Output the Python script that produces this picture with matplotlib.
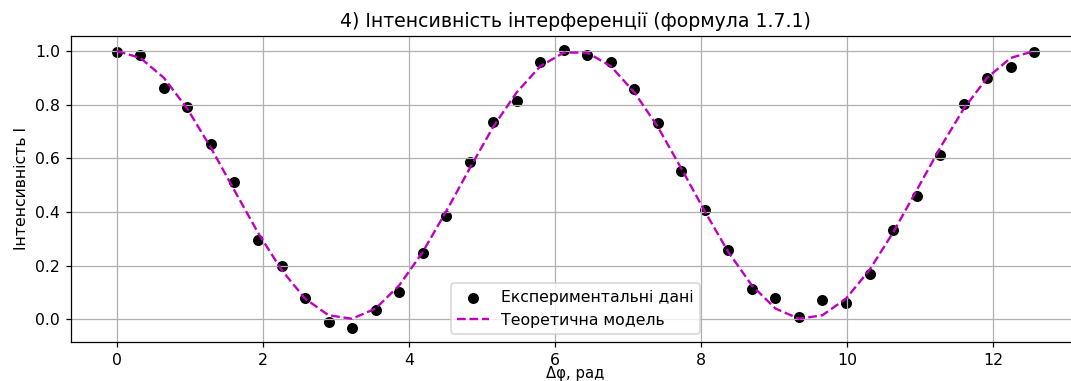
import matplotlib.pyplot as plt

# фазова різниця, рад (40 точок від 0 до 4π)
dphi = [0.000, 0.322, 0.644, 0.967, 1.289, 1.611, 1.933, 2.256, 2.578, 2.900,
        3.222, 3.544, 3.867, 4.189, 4.511, 4.833, 5.155, 5.478, 5.800, 6.122,
        6.444, 6.767, 7.089, 7.411, 7.733, 8.055, 8.378, 8.700, 9.022, 9.344,
        9.666, 9.989, 10.311, 10.633, 10.955, 11.278, 11.600, 11.922, 12.244, 12.566]

# експериментальні значення інтенсивності
i_exp = [0.995, 0.985, 0.861, 0.792, 0.655, 0.511, 0.297, 0.200, 0.080, -0.011,
         -0.032, 0.036, 0.102, 0.247, 0.386, 0.587, 0.734, 0.814, 0.959, 1.004,
         0.985, 0.959, 0.857, 0.730, 0.554, 0.406, 0.260, 0.113, 0.078, 0.010,
         0.070, 0.060, 0.167, 0.334, 0.459, 0.612, 0.801, 0.898, 0.939, 0.995]

# теоретична модель
i_theory = [1.000, 0.974, 0.900, 0.784, 0.639, 0.480, 0.323, 0.184, 0.077, 0.015,
            0.002, 0.040, 0.126, 0.250, 0.402, 0.562, 0.717, 0.846, 0.943, 0.994,
            0.994, 0.943, 0.846, 0.717, 0.562, 0.402, 0.250, 0.126, 0.040, 0.002,
            0.015, 0.077, 0.184, 0.323, 0.480, 0.639, 0.784, 0.900, 0.974, 1.000]

dpi = 113
fig = plt.figure(figsize=(1071 / dpi, 381 / dpi), dpi=dpi)
# права частина полотна обрізана, тому осі виходять за край
ax = fig.add_axes([71 / 1071, 0.103, 1009 / 1071, 0.8025])

ax.scatter(dphi, i_exp, color="black", label="Експериментальні дані")
ax.plot(dphi, i_theory, "m--", label="Теоретична модель")

ax.set_title("4) Інтенсивність інтерференції (формула 1.7.1)")
ax.set_xlabel("Δφ, рад", labelpad=-1, fontsize=9.5)
ax.set_ylabel("Інтенсивність I")
ax.spines["right"].set_visible(False)
ax.grid(True)
ax.legend(loc="lower center")

plt.savefig("out.png", dpi=dpi)
